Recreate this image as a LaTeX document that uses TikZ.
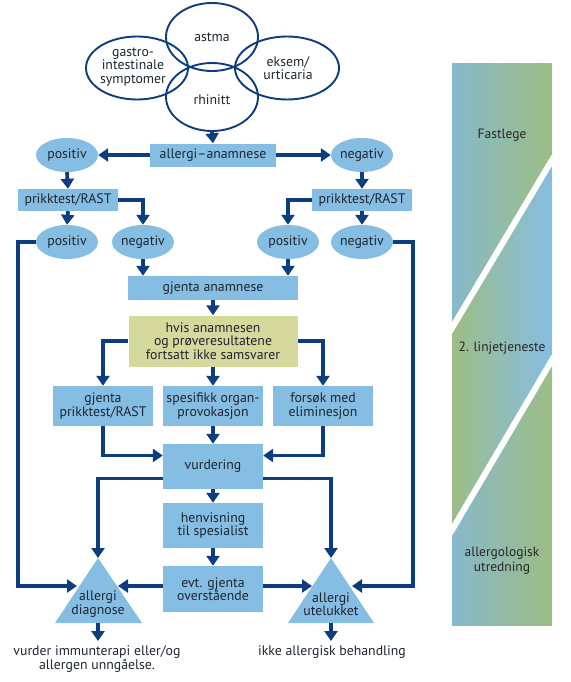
\documentclass[tikz,border=0pt]{standalone}
\usepackage{fontspec}
\setmainfont{PT Sans}
\usetikzlibrary{shapes.geometric,arrows.meta,calc}
\definecolor{lb}{HTML}{86BDE3}
\definecolor{kh}{HTML}{D6D99C}
\definecolor{nv}{HTML}{0C3D7E}
\definecolor{tx}{HTML}{1E2630}
\definecolor{sbb}{HTML}{87B9CB}
\definecolor{sbg}{HTML}{9DBD84}
\begin{document}
\begin{tikzpicture}[x=1pt,y=-1pt,
  font=\fontsize{13.8}{13.6}\selectfont,
  every node/.style={text=tx},
  box/.style={rectangle, fill=lb, align=center, inner sep=0pt},
  ell/.style={ellipse, fill=lb, minimum width=62pt, minimum height=34pt, inner sep=0pt},
  venn/.style={ellipse, draw=nv, line width=1.9pt, inner sep=0pt},
  arr/.style={draw=nv, line width=3.8pt, -{Triangle[width=13pt,length=10pt]}, line join=miter},
  side/.style={align=center, font=\fontsize{13.5}{15}\selectfont, text=black!85}]
\useasboundingbox (0,0) rectangle (570,682);

% side bar
\shade[left color=sbb, right color=sbg] (452,64) rectangle (552,625);
\shade[left color=sbg, right color=lb] (452,328) -- (552,160) -- (552,360) -- (452,530) -- cycle;
\draw[white, line width=6pt, shorten <=-4pt, shorten >=-4pt] (452,328) -- (552,160);
\draw[white, line width=6pt, shorten <=-4pt, shorten >=-4pt] (452,530) -- (552,360);
\node[side] (fast) at (502,135) {Fastlege};
\node[side] (linje) at (502,348) {2. linjetjeneste};
\node[side] (allu) at (502,561) {allergologisk\\utredning};

% Venn
\node[venn, minimum width=92pt, minimum height=68pt] (astma) at (212,37) {};
\node[venn, minimum width=102pt, minimum height=63pt] (gastro) at (137,68) {};
\node[venn, minimum width=104pt, minimum height=63pt] (eksem) at (287,68) {};
\node[venn, minimum width=92pt, minimum height=68pt] (rhin) at (212,97) {};
\node (astmat) at (212,37) {astma};
\node[align=center] (gastrot) at (133,67) {gastro-\\intestinale\\symptomer};
\node[align=center] (eksemt) at (288,68) {eksem/\\urticaria};
\node (rhint) at (212,100) {rhinitt};

% upper flow
\node[box, minimum width=126pt, minimum height=23pt] (anam) at (213,155) {allergi–anamnese};
\node[ell] (pos1) at (67,155) {positiv};
\node[ell] (neg1) at (362,155) {negativ};
\node[box, minimum width=100pt, minimum height=22pt] (pt1) at (68,200) {prikktest/RAST};
\node[box, minimum width=100pt, minimum height=22pt] (pt2) at (362,200) {prikktest/RAST};
\node[ell] (pos2) at (67,242) {positiv};
\node[ell] (neg2) at (143,242) {negativ};
\node[ell] (pos3) at (288,242) {positiv};
\node[ell] (neg3) at (362,242) {negativ};
\node[box, minimum width=170pt, minimum height=24pt] (gjen) at (213,288) {gjenta anamnese};
\node[box, fill=kh, minimum width=169pt, minimum height=51pt] (hvis) at (213,341) {hvis anamnesen\\og prøveresultatene\\fortsatt ikke samsvarer};
\node[box, minimum width=100pt, minimum height=40pt] (gp) at (103,406) {gjenta\\prikktest/RAST};
\node[box, minimum width=100pt, minimum height=40pt] (sp) at (213,406) {spesifikk organ-\\provokasjon};
\node[box, minimum width=100pt, minimum height=40pt] (fe) at (323,406) {forsøk med\\eliminesjon};
\node[box, minimum width=100pt, minimum height=45pt] (vurd) at (213,466.5) {vurdering};
\node[box, minimum width=100pt, minimum height=45pt] (henv) at (213,525.5) {henvisning\\til spesialist};
\node[box, minimum width=100pt, minimum height=46pt] (evt) at (213,589) {evt. gjenta\\overstående};

% triangles
\coordinate (d1a) at (98,558);
\coordinate (d1l) at (55,623);
\coordinate (d1r) at (142,623);
\coordinate (d1b) at (98,623);
\coordinate (d1L) at (77,586);
\coordinate (d1R) at (118,586);
\coordinate (d1e) at (98,641);
\coordinate (d2a) at (331,558);
\coordinate (d2l) at (288,623);
\coordinate (d2r) at (374,623);
\coordinate (d2b) at (331,623);
\coordinate (d2L) at (312,586);
\coordinate (d2R) at (352,586);
\coordinate (d2e) at (331,641);
\coordinate (lx) at (18,0);
\coordinate (rx) at (413,0);
\fill[lb] (d1a) -- (d1l) -- (d1r) -- cycle;
\fill[lb] (d2a) -- (d2l) -- (d2r) -- cycle;
\node[align=center] (diagt) at (98,604) {allergi\\diagnose};
\node[align=center] (utet) at (331,604) {allergi\\utelukket};
\node[align=center] (res1) at (97,659) {vurder immunterapi eller/og\\allergen unngåelse.};
\node (res2) at (332,652) {ikke allergisk behandling};

% connectors
\draw[arr] (rhin.south) -- (anam.north);
\draw[arr] (anam.west) -- (pos1.east);
\draw[arr] (anam.east) -- (neg1.west);
\draw[arr] (pos1.south) -- (pt1.north);
\draw[arr] (neg1.south) -- (pt2.north);
\draw[arr] (pt1.south) -- (pos2.north);
\draw[arr] (pt1.east) -| (neg2.north);
\draw[arr] (pt2.west) -| (pos3.north);
\draw[arr] (pt2.south) -- (neg3.north);
\draw[arr] (neg2.south) -- (neg2.south |- gjen.north);
\draw[arr] (pos3.south) -- (pos3.south |- gjen.north);
\draw[arr] (gjen.south) -- (hvis.north);
\draw[arr] (hvis.west) -| (gp.north);
\draw[arr] (hvis.south) -- (sp.north);
\draw[arr] (hvis.east) -| (fe.north);
\draw[arr] (gp.south) |- ([yshift=11pt]vurd.west);
\draw[arr] (sp.south) -- (vurd.north);
\draw[arr] (fe.south) |- ([yshift=11pt]vurd.east);
\draw[arr] ([yshift=-12pt]vurd.west) -| (d1a);
\draw[arr] ([yshift=-12pt]vurd.east) -| (d2a);
\draw[arr] (vurd.south) -- (henv.north);
\draw[arr] (henv.south) -- (evt.north);
\draw[arr] (evt.west |- d1R) -- (d1R);
\draw[arr] (evt.east |- d2L) -- (d2L);
\draw[arr] (pos2.west) -- (pos2.west -| lx) |- (d1L);
\draw[arr] (neg3.east) -- (neg3.east -| rx) |- (d2R);
\draw[arr] (d1b) -- (d1e);
\draw[arr] (d2b) -- (d2e);
\end{tikzpicture}
\end{document}
